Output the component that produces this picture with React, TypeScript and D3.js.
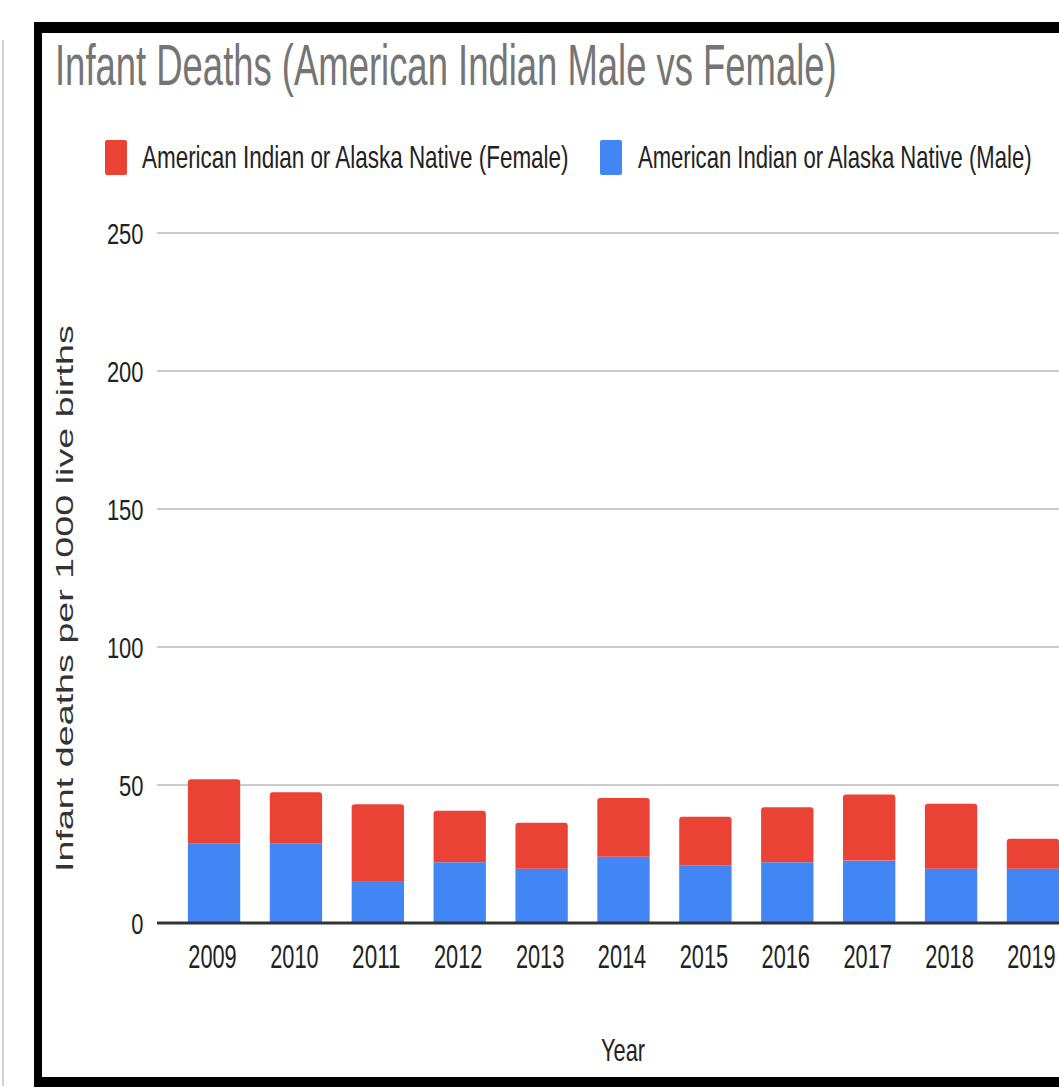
import React from 'react';
import * as d3 from 'd3';

// Chart data
const years = ['2009', '2010', '2011', '2012', '2013', '2014', '2015', '2016', '2017', '2018', '2019'];
const maleValues = [28.9, 28.9, 15.2, 22.0, 19.7, 24.0, 20.7, 22.0, 22.6, 19.7, 19.7];
const femaleValues = [23.2, 18.5, 27.8, 18.7, 16.6, 21.3, 17.8, 19.9, 24.0, 23.5, 10.8];
const yTicks = [0, 50, 100, 150, 200, 250];

const seriesKeys = ['male', 'female'];
const seriesLabels: Record<string, string> = {
  female: 'American Indian or Alaska Native (Female)',
  male: 'American Indian or Alaska Native (Male)',
};
const colors: Record<string, string> = { male: '#4285f4', female: '#ea4335' };

const W = 1059;
const H = 1092;
const FONT_NAME = 'Liberation Sans';
const FONT = '"Liberation Sans", Arial, Helvetica, sans-serif';

let measureCtx: CanvasRenderingContext2D | null = null;
function measure(text: string, size: number) {
  if (!measureCtx) measureCtx = document.createElement('canvas').getContext('2d');
  if (!measureCtx) return text.length * size * 0.55;
  measureCtx.font = `${size}px "${FONT_NAME}", Arial, sans-serif`;
  return measureCtx.measureText(text).width;
}

// Text squeezed/stretched horizontally to a fixed width, starting at (x, y)
function FitText(props: {
  x: number;
  y: number;
  width: number;
  size: number;
  fill: string;
  rotate?: number;
  children: string;
}) {
  const { x, y, width, size, fill, rotate, children } = props;
  const sx = width / measure(children, size);
  const tf = `translate(${x},${y})${rotate ? ` rotate(${rotate})` : ''} scale(${sx},1)`;
  return (
    <text transform={tf} fontSize={size} fill={fill}>
      {children}
    </text>
  );
}

function roundTopRect(x: number, y: number, w: number, h: number, r: number) {
  const rr = Math.min(r, h / 2, w / 2);
  return `M${x},${y + h}V${y + rr}Q${x},${y} ${x + rr},${y}H${x + w - rr}Q${x + w},${y} ${x + w},${y + rr}V${y + h}Z`;
}

export default function App() {
  const rows = years.map((yr, i) => ({ year: yr, male: maleValues[i], female: femaleValues[i] }));
  const stacked = d3.stack<any>().keys(seriesKeys)(rows);

  const x = d3.scaleBand<string>().domain(years).range([157, 1090]).paddingInner(0.361).paddingOuter(0.377);
  const y = d3.scaleLinear().domain([0, 250]).range([923, 233]);

  const plotLeft = 157;
  const tickCharW = 12.2;

  return (
    <div style={{ position: 'absolute', left: 0, top: 0, width: W, height: H, overflow: 'hidden', background: '#fff' }}>
      <svg width={W} height={H} style={{ display: 'block' }} fontFamily={FONT}>
        <rect x={0} y={0} width={W} height={H} fill="#fff" />
        {/* page edge line and dark frame */}
        <rect x={2} y={40} width={2} height={1046} fill="#d0d0d0" />
        <rect x={34} y={22} width={W - 34} height={11} fill="#000" />
        <rect x={34} y={22} width={8} height={1065} fill="#000" />
        <rect x={34} y={1077} width={W - 34} height={10} fill="#000" />

        {/* title */}
        <FitText x={55} y={85} width={782} size={58} fill="#757575">
          Infant Deaths (American Indian Male vs Female)
        </FitText>

        {/* legend */}
        <rect x={105} y={140} width={22} height={35} rx={2} fill={colors.female} />
        <FitText x={142} y={168} width={428} size={32} fill="#222">
          {seriesLabels.female}
        </FitText>
        <rect x={600} y={140} width={22} height={35} rx={2} fill={colors.male} />
        <FitText x={638} y={168} width={395} size={32} fill="#222">
          {seriesLabels.male}
        </FitText>

        {/* gridlines and y tick labels */}
        {yTicks.map((t) => {
          const label = String(t);
          const len = label.length * tickCharW;
          return (
            <g key={t}>
              {t !== 0 && <line x1={plotLeft} x2={W} y1={y(t)} y2={y(t)} stroke="#cccccc" strokeWidth={2} />}
              <FitText x={143.5 - len} y={y(t) + 11} width={len} size={30} fill="#222">
                {label}
              </FitText>
            </g>
          );
        })}

        {/* stacked bars */}
        {stacked.map((layer) => (
          <g key={layer.key} fill={colors[layer.key]}>
            {layer.map((d: any) => {
              const bx = x(d.data.year) as number;
              const bw = x.bandwidth();
              const top = y(d[1]);
              const h = y(d[0]) - top;
              if (layer.key === 'female') {
                return <path key={d.data.year} d={roundTopRect(bx, top, bw, h, 3)} />;
              }
              return <rect key={d.data.year} x={bx} y={top} width={bw} height={h} />;
            })}
          </g>
        ))}

        {/* baseline */}
        <line x1={plotLeft} x2={W} y1={y(0)} y2={y(0)} stroke="#333" strokeWidth={3} />

        {/* x tick labels */}
        {years.map((yr) => {
          const cx = (x(yr) as number) + x.bandwidth() / 2 - 1.5;
          const len = 48.4;
          return (
            <FitText key={yr} x={cx - len / 2} y={968} width={len} size={34} fill="#222">
              {yr}
            </FitText>
          );
        })}

        {/* axis titles */}
        <FitText x={601} y={1061} width={44} size={32} fill="#222">
          Year
        </FitText>
        <FitText x={73} y={872} width={547} size={23} fill="#333" rotate={-90}>
          Infant deaths per 1000 live births
        </FitText>
      </svg>
    </div>
  );
}
